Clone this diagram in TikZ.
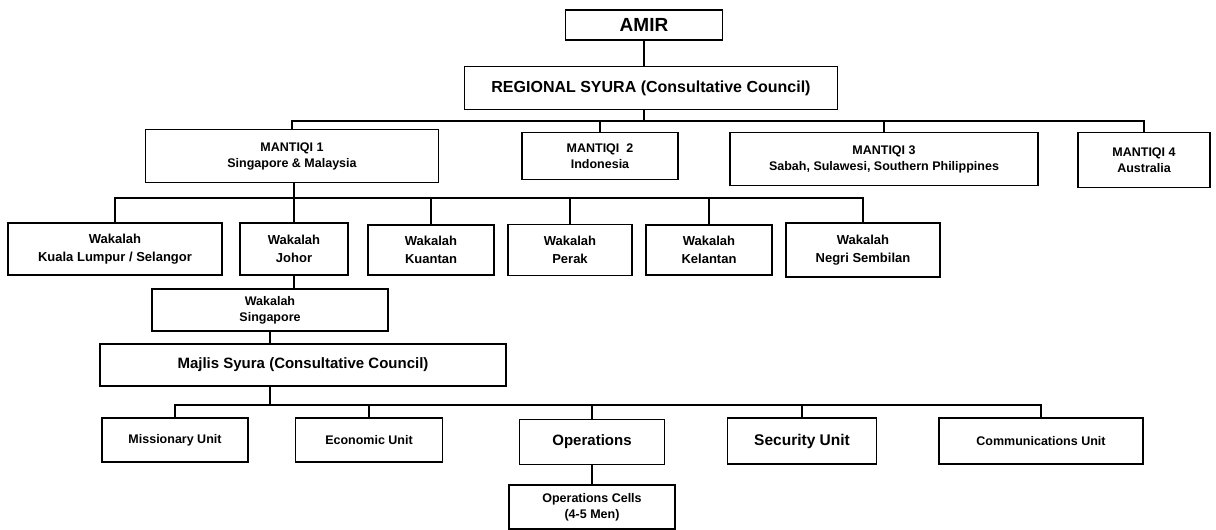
\documentclass[tikz,border=0pt]{standalone}
\usepackage{fontspec}
\setmainfont{Liberation Sans}
\usetikzlibrary{positioning}

\tikzset{
  unit/.style={draw, line width=1.8pt, align=center, inner sep=0pt, fill=white,
    font=\bfseries\fontsize{12.5}{16}\selectfont},
  wakalah/.style={unit, font=\bfseries\fontsize{13}{18}\selectfont},
  link/.style={line width=1.8pt},
}

\begin{document}
\begin{tikzpicture}[x=1pt,y=-1pt]
\useasboundingbox (0,0) rectangle (1216,530);

\coordinate (bus1) at (644,121);
\coordinate (bus2) at (294,198);
\coordinate (bus3) at (270,405);

\node[unit, minimum width=157pt, minimum height=30pt, font=\bfseries\fontsize{19}{22}\selectfont] (amir) at (644,25) {AMIR};
\node[unit, minimum width=373pt, minimum height=43pt, font=\bfseries\fontsize{16}{19}\selectfont] (regional) at (651,88) {REGIONAL SYURA (Consultative Council)};

\node[unit, minimum width=293pt, minimum height=53pt] (m1) at (292,156) {MANTIQI 1\\Singapore \& Malaysia};
\node[unit, minimum width=156pt, minimum height=47pt] (m2) at (600,156) {MANTIQI\ \ 2\\Indonesia};
\node[unit, minimum width=308pt, minimum height=53pt] (m3) at (884,159) {MANTIQI 3\\Sabah, Sulawesi, Southern Philippines};
\node[unit, minimum width=132pt, minimum height=55pt] (m4) at (1144,160) {MANTIQI 4\\Australia};

\node[wakalah, minimum width=214pt, minimum height=52pt] (kl) at (115,249) {Wakalah\\Kuala Lumpur / Selangor};
\node[wakalah, minimum width=108pt, minimum height=52pt] (johor) at (294,249) {Wakalah\\Johor};
\node[wakalah, minimum width=126pt, minimum height=50pt] (kuantan) at (431,250) {Wakalah\\Kuantan};
\node[wakalah, minimum width=124pt, minimum height=51pt] (perak) at (570,250) {Wakalah\\Perak};
\node[wakalah, minimum width=126pt, minimum height=50pt] (kelantan) at (709,250) {Wakalah\\Kelantan};
\node[wakalah, minimum width=154pt, minimum height=54pt] (negri) at (863,250) {Wakalah\\Negri Sembilan};

\node[unit, minimum width=236pt, minimum height=42pt] (singapore) at (270,310) {Wakalah\\Singapore};
\node[unit, minimum width=406pt, minimum height=42pt, font=\bfseries\fontsize{15}{18}\selectfont] (majlis) at (303,365) {Majlis Syura (Consultative Council)};

\node[unit, minimum width=146pt, minimum height=44pt] (missionary) at (175,440) {Missionary Unit};
\node[unit, minimum width=147pt, minimum height=44pt] (economic) at (369,440) {Economic Unit};
\node[unit, minimum width=145pt, minimum height=45pt, font=\bfseries\fontsize{15}{18}\selectfont] (operations) at (592,442) {Operations};
\node[unit, minimum width=149pt, minimum height=46pt, font=\bfseries\fontsize{15.5}{18}\selectfont] (security) at (802,441) {Security Unit};
\node[unit, minimum width=204pt, minimum height=46pt] (comms) at (1041,441) {Communications Unit};
\node[unit, minimum width=166pt, minimum height=44pt] (cells) at (592,507) {Operations Cells\\(4-5 Men)};

\draw[link] (amir.south) -- (amir.south |- regional.north);
\draw[link] (regional.south -| bus1) -- (bus1);
\draw[link] (m1.north) |- (bus1) -| (m4.north);
\draw[link] (m2.north) -- (m2.north |- bus1);
\draw[link] (m3.north) -- (m3.north |- bus1);

\draw[link] (m1.south -| bus2) -- (bus2);
\draw[link] (kl.north) |- (bus2) -| (negri.north);
\draw[link] (johor.north) -- (bus2);
\draw[link] (kuantan.north) -- (kuantan.north |- bus2);
\draw[link] (perak.north) -- (perak.north |- bus2);
\draw[link] (kelantan.north) -- (kelantan.north |- bus2);

\draw[link] (johor.south) -- (johor.south |- singapore.north);
\draw[link] (singapore.south) -- (singapore.south |- majlis.north);
\draw[link] (majlis.south -| bus3) -- (bus3);
\draw[link] (missionary.north) |- (bus3) -| (comms.north);
\draw[link] (economic.north) -- (economic.north |- bus3);
\draw[link] (operations.north) -- (operations.north |- bus3);
\draw[link] (security.north) -- (security.north |- bus3);
\draw[link] (operations.south) -- (cells.north);

\end{tikzpicture}
\end{document}
